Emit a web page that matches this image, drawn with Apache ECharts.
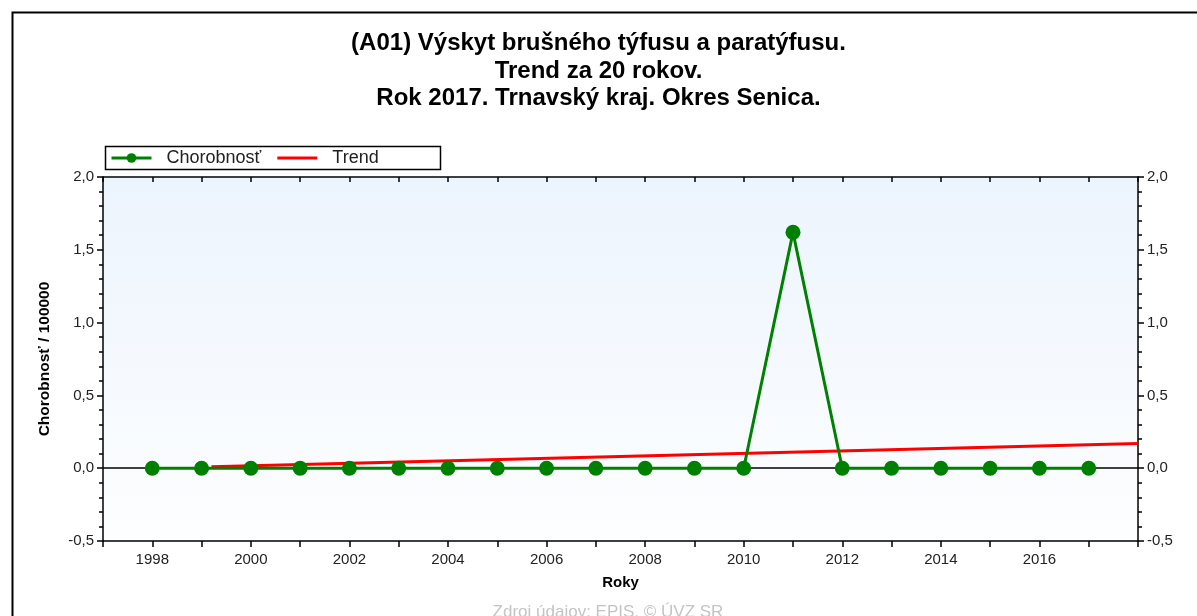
<!DOCTYPE html>
<html>
<head>
<meta charset="utf-8">
<script src="https://cdn.jsdelivr.net/npm/echarts@6/dist/echarts.min.js"></script>
<style>
  html, body { margin: 0; padding: 0; background: #fff; }
  #chart { width: 1197px; height: 616px; }
</style>
</head>
<body>
<div id="chart"></div>
<script>
// data
var years = [1998, 1999, 2000, 2001, 2002, 2003, 2004, 2005, 2006, 2007,
             2008, 2009, 2010, 2011, 2012, 2013, 2014, 2015, 2016, 2017];
var chorobnost = [0, 0, 0, 0, 0, 0, 0, 0, 0, 0,
                  0, 0, 0, 1.62, 0, 0, 0, 0, 0, 0];
var trendYears = [1999.2, 2018];
var trendValues = [0.01, 0.17];
var yTicks = [-0.5, 0, 0.5, 1, 1.5, 2];
var xMin = 1997, xMax = 2018;
var zeroLevel = 0;

var font = 'Liberation Sans, Arial, sans-serif';

function pairs(xs, ys) {
    var out = [];
    for (var i = 0; i < xs.length; i++) out.push([xs[i], ys[i]]);
    return out;
}
function fmtY(v) {
    return v.toFixed(1).replace('.', ',');
}
function fmtX(v) {
    return (v % 2 === 0 && v < xMax) ? String(v) : '';
}

var chart = echarts.init(document.getElementById('chart'));

var yBase = {
    type: 'value',
    min: yTicks[0],
    max: yTicks[yTicks.length - 1],
    interval: 0.5,
    axisLine: { show: true, lineStyle: { color: '#000', width: 1.5 } },
    axisTick: { show: true, length: 6, lineStyle: { color: '#000', width: 1.5 } },
    minorTick: { show: true, splitNumber: 5, length: 4, lineStyle: { color: '#000', width: 1.5 } },
    splitLine: { show: false },
    axisLabel: { formatter: fmtY, color: '#222', fontSize: 15, fontFamily: font, margin: 9 }
};

chart.setOption({
    animation: false,
    title: {
        text: '(A01) Výskyt brušného týfusu a paratýfusu.\nTrend za 20 rokov.\nRok 2017. Trnavský kraj. Okres Senica.',
        left: 'center',
        top: 25,
        textStyle: { fontFamily: font, fontSize: 24, fontWeight: 'bold', color: '#000', lineHeight: 27.5 }
    },
    legend: {
        left: 110,
        top: 149,
        itemWidth: 40,
        itemHeight: 12,
        itemGap: 16,
        padding: 0,
        lineStyle: { width: 3 },
        textStyle: { fontFamily: font, fontSize: 18, color: '#222', padding: [0, 0, 0, 10] },
        data: [
            { name: 'Chorobnosť' },
            { name: 'Trend', icon: 'path://M0,0 L40,0 L40,3 L0,3 Z' }
        ]
    },
    grid: {
        left: 103,
        right: 59,
        top: 177,
        bottom: 75,
        show: true,
        borderWidth: 0,
        backgroundColor: {
            type: 'linear', x: 0, y: 0, x2: 0, y2: 1,
            colorStops: [{ offset: 0, color: '#ecf4fd' }, { offset: 1, color: '#fdfeff' }]
        }
    },
    xAxis: [{
        type: 'value',
        position: 'bottom',
        min: xMin,
        max: xMax,
        interval: 1,
        name: 'Roky',
        nameLocation: 'middle',
        nameGap: 34,
        nameTextStyle: { fontFamily: font, fontSize: 15, fontWeight: 'bold', color: '#000' },
        axisLine: { show: true, onZero: false, lineStyle: { color: '#000', width: 1.5 } },
        axisTick: { show: true, length: 6, lineStyle: { color: '#000', width: 1.5 } },
        splitLine: { show: false },
        axisLabel: { formatter: fmtX, color: '#222', fontSize: 15, fontFamily: font, margin: 11, showMinLabel: true, showMaxLabel: true }
    }, {
        type: 'value',
        position: 'top',
        min: xMin,
        max: xMax,
        interval: 1,
        axisLine: { show: true, onZero: false, lineStyle: { color: '#000', width: 1.5 } },
        axisTick: { show: true, inside: true, length: 5, lineStyle: { color: '#000', width: 1.5 } },
        splitLine: { show: false },
        axisLabel: { show: false }
    }],
    yAxis: [
        Object.assign({}, yBase, {
            position: 'left',
            name: 'Chorobnosť / 100000',
            nameLocation: 'middle',
            nameGap: 50,
            nameTextStyle: { fontFamily: font, fontSize: 15.5, fontWeight: 'bold', color: '#000' }
        }),
        Object.assign({}, yBase, { position: 'right' })
    ],
    series: [{
        name: 'Trend',
        type: 'line',
        z: 2,
        symbol: 'none',
        color: '#ff0000',
        lineStyle: { color: '#ff0000', width: 3 },
        data: pairs(trendYears, trendValues),
        markLine: {
            silent: true,
            z: 1,
            symbol: 'none',
            label: { show: false },
            lineStyle: { color: '#000', width: 1.5, type: 'solid' },
            data: [{ yAxis: zeroLevel }]
        }
    }, {
        name: 'Chorobnosť',
        type: 'line',
        z: 3,
        symbol: 'circle',
        symbolSize: 15,
        color: '#008000',
        itemStyle: { color: '#008000' },
        lineStyle: { color: '#008000', width: 3 },
        data: pairs(years, chorobnost)
    }],
    graphic: [{
        type: 'rect',
        left: 10, top: 10,
        shape: { width: 1200, height: 620 },
        style: { fill: 'none', stroke: '#000', lineWidth: 2 },
        silent: true
    }, {
        type: 'rect',
        left: 103, top: 144,
        shape: { width: 335, height: 23 },
        style: { fill: 'none', stroke: '#000', lineWidth: 1.5 },
        silent: true
    }, {
        type: 'text',
        x: 608, y: 612,
        style: {
            text: 'Zdroj údajov: EPIS, © ÚVZ SR',
            fill: '#c4c4c4',
            font: '17px Liberation Sans, Arial, sans-serif',
            align: 'center',
            verticalAlign: 'middle'
        },
        silent: true
    }]
});
</script>
</body>
</html>
